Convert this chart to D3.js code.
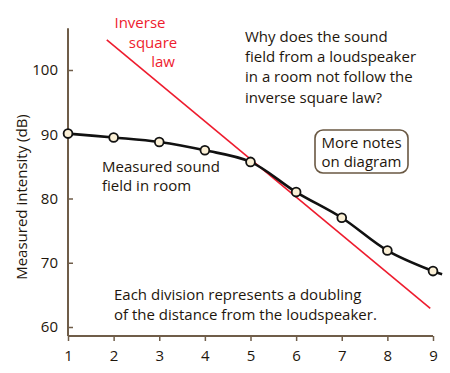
<!DOCTYPE html>
<html>
<head>
<meta charset="utf-8">
<script src="https://cdn.jsdelivr.net/npm/d3@7"></script>
<style>
  body { margin: 0; background: #fff; }
  svg { display: block; font-family: "Open Sans", "Noto Sans", sans-serif; }
</style>
</head>
<body>
<svg id="chart" width="450" height="373"></svg>
<script>
// distance divisions (each one a doubling)
var divisions = [1, 2, 3, 4, 5, 6, 7, 8, 9];
var measured = [90.1, 89.5, 88.8, 87.5, 85.7, 81.0, 77.0, 71.9, 68.7];
// smooth curve runs a little past the last point
var curveTail = [9.2, 68.2];
// inverse square law reference line endpoints
var inverseX = [1.85, 8.94];
var inverseY = [104.7, 62.9];
var yTicks = [60, 70, 80, 90, 100];

var ink = "#1e160c", axisColor = "#6f5d49", red = "#ee1c2e";

var svg = d3.select("#chart");
var x = d3.scaleLinear().domain([1, 9]).range([68, 433]);
var y = d3.scaleLinear().domain([60, 100]).range([327, 70]);
var yBottom = 58.6, yTop = 106.5;

// axes
var xAxis = d3.axisBottom(x).tickValues(divisions).tickSize(5).tickPadding(9.5);
var gx = svg.append("g")
    .attr("transform", "translate(0," + y(yBottom) + ")")
    .call(xAxis);
gx.select(".domain").remove();
gx.append("line")
    .attr("x1", x(1)).attr("x2", x(9))
    .attr("stroke", axisColor).attr("stroke-width", 2);

var yAxis = d3.axisRight(y).tickValues(yTicks).tickSize(5).tickFormat(d3.format("d"));
var gy = svg.append("g")
    .attr("transform", "translate(" + x(1) + ",0)")
    .call(yAxis);
gy.select(".domain").remove();
gy.append("line")
    .attr("y1", y(yTop)).attr("y2", y(yBottom))
    .attr("stroke", axisColor).attr("stroke-width", 2);
gy.selectAll(".tick text")
    .attr("x", -10).attr("text-anchor", "end");

[gx, gy].forEach(function (g) {
  g.selectAll(".tick line").attr("stroke", axisColor).attr("stroke-width", 1.5);
  g.selectAll(".tick text")
      .attr("fill", ink)
      .attr("font-size", 15)
      .attr("font-family", "'Open Sans', sans-serif");
});

svg.append("text")
    .attr("transform", "translate(27," + 197 + ") rotate(-90)")
    .attr("text-anchor", "middle")
    .attr("fill", ink)
    .attr("font-size", 15)
    .text("Measured intensity (dB)");

// inverse square law line
svg.append("line")
    .attr("x1", x(inverseX[0])).attr("y1", y(inverseY[0]))
    .attr("x2", x(inverseX[1])).attr("y2", y(inverseY[1]))
    .attr("stroke", red).attr("stroke-width", 1.6);

// measured curve
var pts = divisions.map(function (d, i) { return [d, measured[i]]; });
var line = d3.line()
    .x(function (d) { return x(d[0]); })
    .y(function (d) { return y(d[1]); })
    .curve(d3.curveCatmullRom.alpha(0.5));
svg.append("path")
    .datum(pts.concat([curveTail]))
    .attr("d", line)
    .attr("fill", "none")
    .attr("stroke", "#111")
    .attr("stroke-width", 2.6);

svg.selectAll("circle.pt")
    .data(pts)
    .enter().append("circle")
    .attr("class", "pt")
    .attr("cx", function (d) { return x(d[0]); })
    .attr("cy", function (d) { return y(d[1]); })
    .attr("r", 4.4)
    .attr("fill", "#fbf0d6")
    .attr("stroke", "#111")
    .attr("stroke-width", 1.8);

// annotations; tx may be one x or one per line
function block(lines, tx, ty, opts) {
  var xs = Array.isArray(tx) ? tx : lines.map(function () { return tx; });
  var t = svg.append("text")
      .attr("x", xs[0]).attr("y", ty)
      .attr("fill", opts.fill || ink)
      .attr("font-size", opts.size || 15)
      .attr("text-anchor", opts.anchor || "start");
  lines.forEach(function (s, i) {
    t.append("tspan").attr("x", xs[i]).attr("y", ty + i * opts.lh).text(s);
  });
  return t;
}

block(["Inverse", "square", "law"], [140, 153, 163], 28, { fill: red, anchor: "middle", lh: 19.7 });
block(["Why does the sound", "field from a loudspeaker", "in a room not follow the",
       "inverse square law?"], 245, 42, { lh: 20.2 });
block(["Measured sound", "field in room"], 102, 172, { lh: 19 });
block(["Each division represents a doubling", "of the distance from the loudspeaker."],
      114, 300, { lh: 19.5 });

svg.append("rect")
    .attr("x", 315).attr("y", 130)
    .attr("width", 93).attr("height", 43)
    .attr("rx", 8)
    .attr("fill", "#fff")
    .attr("stroke", "#6a5843").attr("stroke-width", 1.6);
block(["More notes", "on diagram"], 361.5, 148, { anchor: "middle", lh: 19 });
</script>
</body>
</html>
